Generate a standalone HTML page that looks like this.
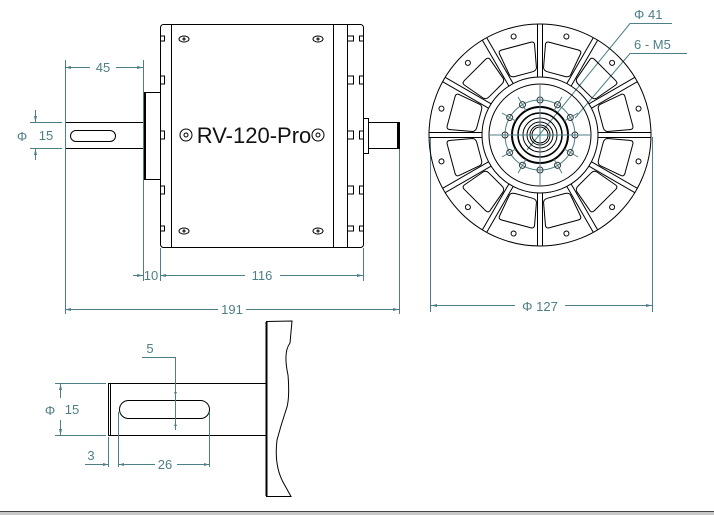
<!DOCTYPE html>
<html><head><style>
html,body{margin:0;padding:0;background:#fff;width:714px;height:515px;overflow:hidden}
svg{display:block}
text{font-family:"Liberation Sans",sans-serif}
.d{fill:#4d7f86;font-size:13px}
</style></head><body>
<svg width="714" height="515" viewBox="0 0 714 515" xmlns="http://www.w3.org/2000/svg">
<rect width="714" height="515" fill="#fff"/>
<g stroke="#000" fill="none" stroke-width="1">
<rect x="160.5" y="24.5" width="203" height="223" rx="3"/>
<line x1="171.5" y1="25" x2="171.5" y2="247"/>
<line x1="333.5" y1="25" x2="333.5" y2="247"/>
<line x1="347.5" y1="25" x2="347.5" y2="247"/>
<path d="M160.5 36h4v5h-4 M160.5 76h4v8h-4 M160.5 131h4v8h-4 M160.5 186h4v8h-4 M160.5 226h4v5h-4"/>
<path d="M363.5 36h-4v5h4 M363.5 76h-4v8h4 M363.5 131h-4v8h4 M363.5 186h-4v8h4 M363.5 226h-4v5h4"/>
<path d="M347.5 36h6v5h-6 M347.5 76h6v8h-6 M347.5 131h6v8h-6 M347.5 186h6v8h-6 M347.5 226h6v5h-6"/>
<ellipse cx="184" cy="39" rx="5" ry="3"/><circle cx="184" cy="39" r="1"/>
<ellipse cx="318" cy="39" rx="5" ry="3"/><circle cx="318" cy="39" r="1"/>
<ellipse cx="184" cy="231" rx="5" ry="3"/><circle cx="184" cy="231" r="1"/>
<ellipse cx="318" cy="231" rx="5" ry="3"/><circle cx="318" cy="231" r="1"/>
<circle cx="186" cy="135" r="6"/><circle cx="186" cy="135" r="2"/>
<circle cx="318" cy="135" r="6"/><circle cx="318" cy="135" r="2"/>
<rect x="143.5" y="92.5" width="17" height="87"/>
<line x1="145" y1="93" x2="145" y2="179" stroke-width="2"/>
<path d="M143 122.5H65.5V148.5H143"/>
<rect x="70.5" y="130.5" width="45" height="11" rx="5.5"/>
<rect x="363.5" y="118.5" width="5" height="35"/>
<rect x="368.5" y="122.5" width="31" height="26"/>
<line x1="398" y1="123" x2="398" y2="148" stroke-width="2"/>
</g>
<text x="254" y="143" text-anchor="middle" font-size="22" fill="#111">RV-120-Pro</text>

<g stroke="#4d7f86" fill="none" stroke-width="1">
<line x1="65.5" y1="60" x2="65.5" y2="314"/>
<line x1="143.5" y1="60" x2="143.5" y2="281"/>
<line x1="160.5" y1="248" x2="160.5" y2="281"/>
<line x1="363.5" y1="248" x2="363.5" y2="281"/>
<line x1="399.5" y1="149" x2="399.5" y2="314"/>
<path d="M65 67.5H90 M116 67.5H143"/>
<path d="M133 275.5H143 M160 275.5H245 M280 275.5H363"/>
<path d="M65 309.5H218 M246 309.5H399"/>
<path d="M30 122.5H62 M30 148.5H62 M35.5 110V122 M35.5 149V160"/>
<line x1="430.5" y1="137" x2="430.5" y2="312"/>
<line x1="652.5" y1="137" x2="652.5" y2="312"/>
<path d="M431 305.5H515 M565 305.5H652"/>
<path d="M672 23.5H630L527 150"/>
<path d="M687 53.5H630L575 118"/>
</g>
<g fill="#4d7f86">
<path d="M65 67.5l6-1.5v3z M143 67.5l-6-1.5v3z M143 275.5l-6-1.5v3z M160 275.5l6-1.5v3z M363 275.5l-6-1.5v3z M65 309.5l6-1.5v3z M399 309.5l-6-1.5v3z M35.5 122l-1.5-6h3z M35.5 149l-1.5 6h3z M431 305.5l6-1.5v3z M652 305.5l-6-1.5v3z"/>
</g>
<text class="d" x="103" y="72" text-anchor="middle">45</text>
<text class="d" x="151" y="280" text-anchor="middle" font-size="12">10</text>
<text class="d" x="262" y="280" text-anchor="middle">116</text>
<text class="d" x="232" y="314" text-anchor="middle">191</text>
<text class="d" x="22" y="141" text-anchor="middle" font-size="16">Φ</text>
<text class="d" x="46" y="140" text-anchor="middle">15</text>
<text class="d" x="540" y="311" text-anchor="middle">Φ  127</text>
<text class="d" x="634" y="19" font-size="14">Φ  41</text>
<text class="d" x="634" y="49">6 - M5</text>

<g stroke="#000" fill="none" stroke-width="1">
<circle cx="540" cy="135" r="111"/>
<circle cx="540" cy="135" r="58"/>
<circle cx="540" cy="135" r="51"/>
<circle cx="540" cy="135" r="28" stroke-width="2"/>
<circle cx="540" cy="135" r="22" stroke-width="1.5"/>
<circle cx="540" cy="135" r="17"/>
<circle cx="540" cy="135" r="13"/>
<circle cx="540" cy="135" r="10"/>
<circle cx="540" cy="135" r="8"/>
</g>
<g stroke="#000" fill="none" stroke-width="1" transform="translate(540 135)">
<g id="sp"><path d="M-2.5 -58V-111 M2.5 -58V-111"/>
<g transform="rotate(15)"><circle cx="0" cy="-102" r="2.5"/>
<path d="M-9 -63L9 -63Q13 -63 14 -66L18 -88Q19 -92 15 -92L-15 -92Q-19 -92 -18 -88L-14 -66Q-13 -63 -9 -63Z"/></g></g>
<use href="#sp" transform="rotate(30)"/><use href="#sp" transform="rotate(60)"/><use href="#sp" transform="rotate(90)"/>
<use href="#sp" transform="rotate(120)"/><use href="#sp" transform="rotate(150)"/><use href="#sp" transform="rotate(180)"/>
<use href="#sp" transform="rotate(210)"/><use href="#sp" transform="rotate(240)"/><use href="#sp" transform="rotate(270)"/>
<use href="#sp" transform="rotate(300)"/><use href="#sp" transform="rotate(330)"/>
</g>
<g stroke="#4d7f86" fill="none" stroke-width="1" transform="translate(540 135)">
<circle r="35"/>
<path d="M-50 0H50 M0 -50V50"/>
<g id="bh"><circle cx="0" cy="-35" r="3" stroke="#333"/><line x1="0" y1="-28" x2="0" y2="-44"/></g>
<use href="#bh" transform="rotate(30)"/><use href="#bh" transform="rotate(60)"/><use href="#bh" transform="rotate(90)"/>
<use href="#bh" transform="rotate(120)"/><use href="#bh" transform="rotate(150)"/><use href="#bh" transform="rotate(180)"/>
<use href="#bh" transform="rotate(210)"/><use href="#bh" transform="rotate(240)"/><use href="#bh" transform="rotate(270)"/>
<use href="#bh" transform="rotate(300)"/><use href="#bh" transform="rotate(330)"/>
</g>

<g stroke="#000" fill="none" stroke-width="1">
<path d="M266 383.5H108.5V435.5H266"/>
<line x1="110.5" y1="384" x2="110.5" y2="435"/>
<rect x="119.5" y="400.5" width="90" height="18" rx="9"/>
<path d="M266.5 321.5V496.5H291L283 482Q274 465 277 440Q281 425 286 410Q290 400 288 375Q283 352 290 343L292 321Z"/>
<line x1="266.5" y1="322" x2="266.5" y2="496" stroke-width="2"/>
</g>
<g stroke="#4d7f86" fill="none" stroke-width="1">
<path d="M55 383.5H106 M55 435.5H106 M60.5 384V398 M60.5 420V435"/>
<path d="M142 357.5H175.5V430"/>
<path d="M108.5 437V467 M118.5 412V467 M209.5 412V467"/>
<path d="M85 464.5H108 M119 464.5H155 M177 464.5H209"/>
</g>
<g fill="#4d7f86">
<path d="M60.5 384l-1.5 6h3z M60.5 435l-1.5-6h3z M108 464.5l-5-1.5v3z M119 464.5l5-1.5v3z M209 464.5l-5-1.5v3z M175.5 395l-1.5-3h3z M175.5 423l-1.5 3h3z"/>
</g>
<text class="d" x="50" y="415" text-anchor="middle" font-size="16">Φ</text>
<text class="d" x="72" y="414" text-anchor="middle">15</text>
<text class="d" x="150" y="353" text-anchor="middle">5</text>
<text class="d" x="91" y="460" text-anchor="middle">3</text>
<text class="d" x="165" y="469" text-anchor="middle">26</text>

<rect x="0" y="511" width="714" height="4" fill="#c8c8c8"/>
<line x1="0" y1="511.5" x2="714" y2="511.5" stroke="#444"/>
</svg>
</body></html>
